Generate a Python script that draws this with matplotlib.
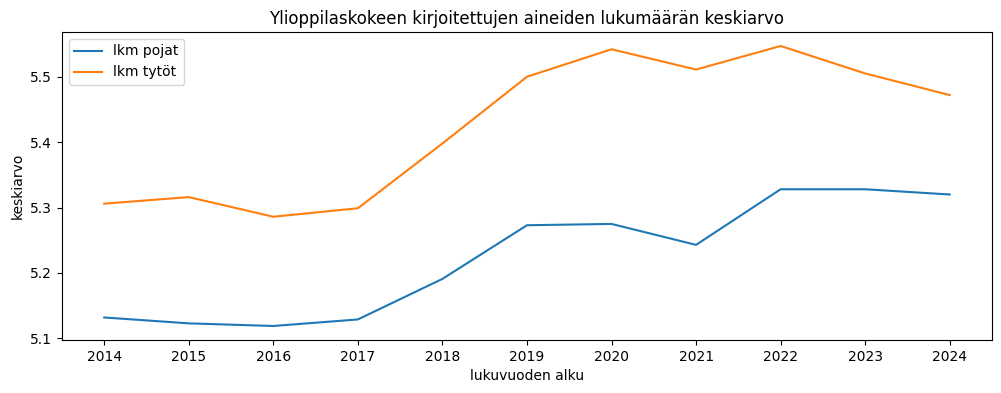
import matplotlib
matplotlib.use("Agg")
import matplotlib.pyplot as plt

years = [2014, 2015, 2016, 2017, 2018, 2019, 2020, 2021, 2022, 2023, 2024]
pojat = [5.132, 5.123, 5.119, 5.129, 5.191, 5.273, 5.275, 5.243, 5.328, 5.328, 5.320]
tytot = [5.306, 5.316, 5.286, 5.299, 5.398, 5.500, 5.542, 5.511, 5.547, 5.505, 5.472]

fig = plt.figure(figsize=(10.01, 3.93), dpi=100)
ax = fig.add_axes([0.0619, 0.1349, 0.991 - 0.0619, 0.9186 - 0.1349])
ax.plot(years, pojat, label="lkm pojat")
ax.plot(years, tytot, label="lkm tytöt")
ax.set_xticks(years)
ax.set_title("Ylioppilaskokeen kirjoitettujen aineiden lukumäärän keskiarvo")
ax.set_xlabel("lukuvuoden alku")
ax.set_ylabel("keskiarvo")
ax.legend(loc="upper left")
fig.savefig("out.png", dpi=100)
